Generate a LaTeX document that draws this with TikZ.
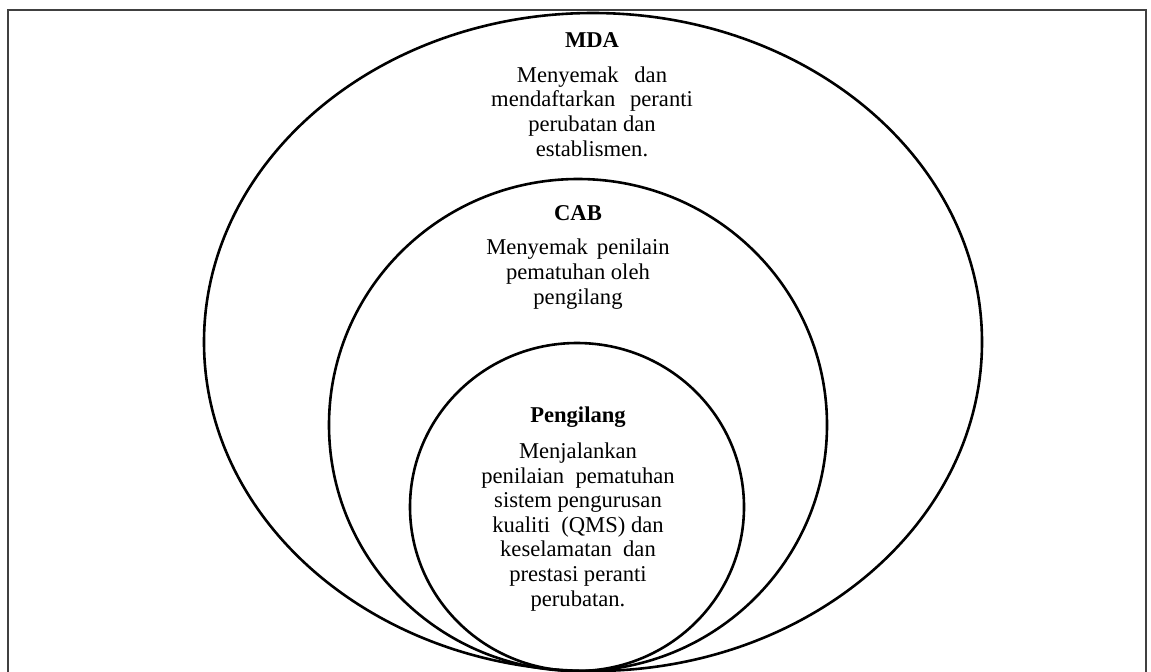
\documentclass[tikz,border=0pt]{standalone}
\usepackage{fontspec}
\setmainfont{Liberation Serif}
\usepackage{tikz}

\newcommand{\widegap}[1]{\hspace{#1em}}

\begin{document}
\begin{tikzpicture}[x=0.5pt, y=-0.5pt]
  \tikzset{ring/.style={draw, line width=1.3pt},
           ringtitle/.style={font=\fontsize{11.3}{12.3}\selectfont\bfseries, anchor=base, inner sep=0pt},
           ringtext/.style={font=\fontsize{11.3}{12.3}\selectfont, align=center, anchor=base, inner sep=0pt}}
  \path[use as bounding box, clip] (0,0) rectangle (1151,671);
  \draw[black!75, line width=0.9pt] (8,10) rectangle (1146,690);
  \draw[ring] (593,342) ellipse [x radius=389, y radius=329];
  \draw[ring] (578,425) ellipse [x radius=249, y radius=246];
  \draw[ring] (577,507) ellipse [x radius=167, y radius=164];
  % text nodes sit on the baseline of their last line
  \node[ringtitle] (mda) at (592,47) {MDA};
  \node[ringtext] (mdatext) at (592,156) {Menyemak \widegap{0.45}dan\\mendaftarkan \widegap{0.4}peranti\\perubatan dan\\establismen.};
  \node[ringtitle] (cab) at (578,220) {CAB};
  \node[ringtext] (cabtext) at (578,304) {Menyemak \widegap{0.15}penilain\\pematuhan oleh\\pengilang};
  \node[ringtitle] (pengilang) at (578,422) {Pengilang};
  \node[ringtext] (pengilangtext) at (578,606) {Menjalankan\\penilaian \widegap{0.25}pematuhan\\sistem pengurusan\\kualiti \widegap{0.25}(QMS) dan\\keselamatan \widegap{0.25}dan\\prestasi peranti\\perubatan.};
\end{tikzpicture}
\end{document}
